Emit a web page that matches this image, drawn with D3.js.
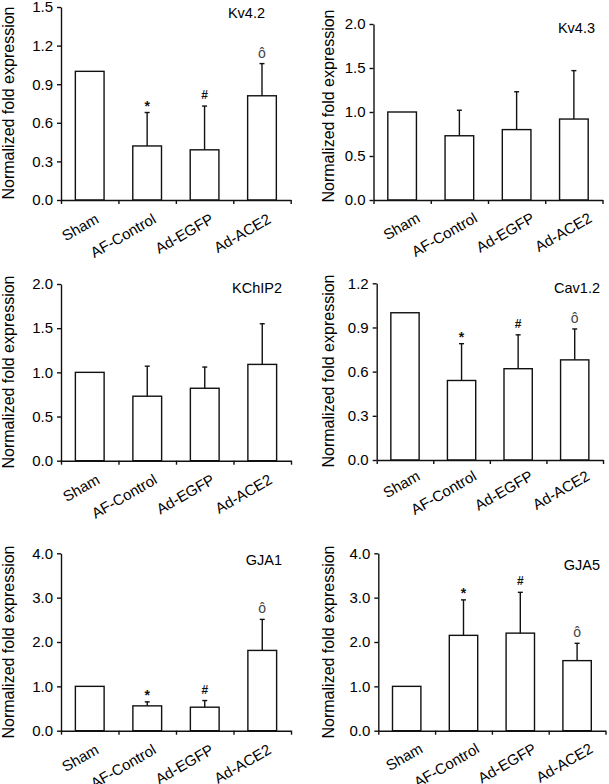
<!DOCTYPE html>
<html lang="en">
<head>
  <meta charset="UTF-8">
  <title>Normalized fold expression</title>
  <script src="https://d3js.org/d3.v7.min.js"></script>
  <style>
    body {
      margin: 0;
      padding: 0;
      background: #fff;
      font-family: 'Liberation Sans', Arial, sans-serif;
    }
    .bar {
      fill: #fff;
      stroke: #111;
      stroke-width: 1.4px;
    }
    .err {
      stroke: #111;
      stroke-width: 1.4px;
      fill: none;
    }
    .axis path, .axis line {
      stroke: #111;
      stroke-width: 1.4px;
    }
    .axis text {
      font-family: 'Liberation Sans', Arial, sans-serif;
      font-size: 15px;
      fill: #000;
    }
  </style>
</head>
<body>
  <svg id="chart" width="609" height="784"></svg>

  <script>
    // groups on the x axis
    const categories = ["Sham", "AF-Control", "Ad-EGFP", "Ad-ACE2"];
    const genes = ["Kv4.2", "Kv4.3", "KChIP2", "Cav1.2", "GJA1", "GJA5"];

    // mean fold expression, one array per gene
    const kv42Mean   = [1.00, 0.42, 0.39, 0.81];
    const kv43Mean   = [1.00, 0.73, 0.80, 0.92];
    const kchip2Mean = [1.00, 0.73, 0.82, 1.09];
    const cav12Mean  = [1.00, 0.54, 0.62, 0.68];
    const gja1Mean   = [1.00, 0.56, 0.53, 1.81];
    const gja5Mean   = [1.00, 2.15, 2.20, 1.58];

    // upper error (SD)
    const kv42Err   = [0, 0.26, 0.34, 0.25];
    const kv43Err   = [0, 0.29, 0.43, 0.55];
    const kchip2Err = [0, 0.34, 0.24, 0.46];
    const cav12Err  = [0, 0.25, 0.23, 0.21];
    const gja1Err   = [0, 0.09, 0.15, 0.70];
    const gja5Err   = [0, 0.80, 0.92, 0.39];

    // significance marks above the error bars
    const kv42Sig   = ["", "*", "#", "ô"];
    const kv43Sig   = ["", "", "", ""];
    const kchip2Sig = ["", "", "", ""];
    const cav12Sig  = ["", "*", "#", "ô"];
    const gja1Sig   = ["", "*", "#", "ô"];
    const gja5Sig   = ["", "*", "#", "ô"];

    // y axis: max and tick step
    const yMax  = [1.5, 2.0, 2.0, 1.2, 4.0, 4.0];
    const yStep = [0.3, 0.5, 0.5, 0.3, 1.0, 1.0];

    const means = [kv42Mean, kv43Mean, kchip2Mean, cav12Mean, gja1Mean, gja5Mean];
    const errs  = [kv42Err, kv43Err, kchip2Err, cav12Err, gja1Err, gja5Err];
    const sigs  = [kv42Sig, kv43Sig, kchip2Sig, cav12Sig, gja1Sig, gja5Sig];

    // where each panel sits on the page
    const layout = [
      { x0: 61,    x1: 290.7, top: 7,     bottom: 200,   titleX: 265, titleY: 18,  yLabX: 14,  yLabY: 103, labDx: 10, labDy: 22 },
      { x0: 373.5, x1: 602.5, top: 24,    bottom: 200,   titleX: 595, titleY: 33,  yLabX: 334, yLabY: 106, labDx: 19, labDy: 21 },
      { x0: 61,    x1: 291,   top: 284,   bottom: 460.7, titleX: 282, titleY: 293, yLabX: 14,  yLabY: 372, labDx: 11, labDy: 22 },
      { x0: 376.7, x1: 603,   top: 283.3, bottom: 460,   titleX: 600, titleY: 293, yLabX: 334, yLabY: 371, labDx: 16, labDy: 19 },
      { x0: 61,    x1: 291,   top: 553.3, bottom: 730.7, titleX: 282, titleY: 565, yLabX: 14,  yLabY: 642, labDx: 10, labDy: 22 },
      { x0: 378.3, x1: 605.5, top: 553.3, bottom: 730.7, titleX: 600, titleY: 570, yLabX: 334, yLabY: 642, labDx: 17, labDy: 21 }
    ];

    const sigStyle = {
      "*": { size: 14, weight: "bold", color: "#111", dy: -2 },
      "#": { size: 12, weight: "bold", color: "#111", dy: -7 },
      "ô": { size: 14, weight: "normal", color: "#444", dy: -6 }
    };

    const svg = d3.select("#chart");

    genes.forEach((gene, i) => drawPanel(i));

    function drawPanel(i) {
      const L = layout[i];
      const g = svg.append("g");

      const x = d3.scaleBand()
        .domain(categories)
        .range([L.x0, L.x1])
        .paddingInner(0.5)
        .paddingOuter(0.25);

      const bounds = d3.scaleLinear()
        .domain([0, categories.length])
        .range([L.x0, L.x1]);

      const y = d3.scaleLinear()
        .domain([0, yMax[i]])
        .range([L.bottom, L.top]);

      const rows = categories.map((c, j) => ({ cat: c, mean: means[i][j], err: errs[i][j], sig: sigs[i][j] }));
      const mid = d => x(d.cat) + x.bandwidth() / 2;

      // bars
      g.selectAll(".bar")
        .data(rows)
        .enter().append("rect")
        .attr("class", "bar")
        .attr("x", d => x(d.cat))
        .attr("y", d => y(d.mean))
        .attr("width", x.bandwidth())
        .attr("height", d => y(0) - y(d.mean));

      // error bars, upper half only
      const withErr = rows.filter(d => d.err > 0);
      g.selectAll(".err-line")
        .data(withErr)
        .enter().append("line")
        .attr("class", "err")
        .attr("x1", mid)
        .attr("x2", mid)
        .attr("y1", d => y(d.mean))
        .attr("y2", d => y(d.mean + d.err));

      g.selectAll(".err-cap")
        .data(withErr)
        .enter().append("line")
        .attr("class", "err")
        .attr("x1", d => mid(d) - 2.5)
        .attr("x2", d => mid(d) + 2.5)
        .attr("y1", d => y(d.mean + d.err))
        .attr("y2", d => y(d.mean + d.err));

      // significance marks
      g.selectAll(".sig")
        .data(rows.filter(d => d.sig))
        .enter().append("text")
        .attr("x", mid)
        .attr("y", d => y(d.mean + d.err) + sigStyle[d.sig].dy)
        .attr("text-anchor", "middle")
        .style("font-size", d => sigStyle[d.sig].size + "px")
        .style("font-weight", d => sigStyle[d.sig].weight)
        .style("fill", d => sigStyle[d.sig].color)
        .text(d => d.sig);

      // y axis
      const ticks = d3.range(0, yMax[i] + 1e-9, yStep[i]);
      g.append("g")
        .attr("class", "axis")
        .attr("transform", `translate(${L.x0},0)`)
        .call(d3.axisLeft(y).tickValues(ticks).tickFormat(d3.format(".1f")).tickSize(4).tickSizeOuter(0).tickPadding(4));

      // x axis, ticks between the groups
      g.append("g")
        .attr("class", "axis")
        .attr("transform", `translate(0,${L.bottom})`)
        .call(d3.axisBottom(bounds).tickValues(d3.range(0, categories.length + 1)).tickFormat("").tickSize(4).tickSizeOuter(0));

      // rotated group labels
      g.selectAll(".cat")
        .data(categories)
        .enter().append("text")
        .attr("transform", d => `translate(${x(d) + x.bandwidth() / 2 + L.labDx},${L.bottom + L.labDy}) rotate(-30)`)
        .attr("text-anchor", "end")
        .style("font-size", "15px")
        .style("fill", "#000")
        .text(d => d);

      // gene name
      g.append("text")
        .attr("x", L.titleX)
        .attr("y", L.titleY)
        .attr("text-anchor", "end")
        .style("font-size", "14.5px")
        .style("fill", "#000")
        .text(genes[i]);

      // y title
      g.append("text")
        .attr("transform", `translate(${L.yLabX},${L.yLabY}) rotate(-90)`)
        .attr("text-anchor", "middle")
        .style("font-size", "16px")
        .style("fill", "#000")
        .text("Normalized fold expression");
    }
  </script>
</body>
</html>
